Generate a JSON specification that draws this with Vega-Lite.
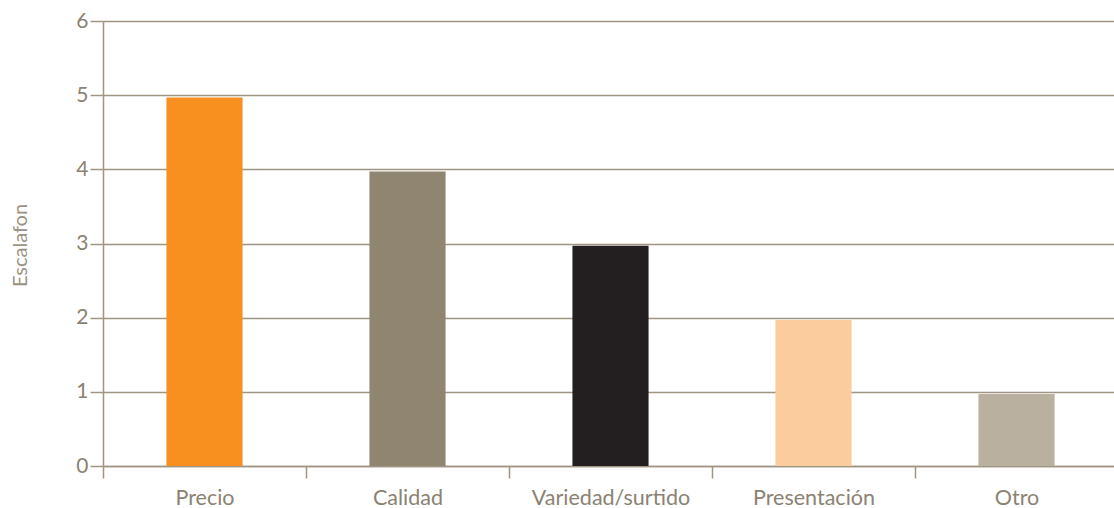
{
  "$schema": "https://vega.github.io/schema/vega-lite/v6.json",
  "width": 1015,
  "height": 445,
  "autosize": "none",
  "padding": {"left": 103, "top": 21, "right": 0, "bottom": 42},
  "background": "#ffffff",
  "config": {"view": {"stroke": null}, "font": "Lato"},
  "data": {"values": [
    {"categoria": "Precio", "escalafon": 4.97, "color": "#f7901e"},
    {"categoria": "Calidad", "escalafon": 3.97, "color": "#8f8570"},
    {"categoria": "Variedad/surtido", "escalafon": 2.97, "color": "#231f20"},
    {"categoria": "Presentación", "escalafon": 1.97, "color": "#fbcc9c"},
    {"categoria": "Otro", "escalafon": 0.97, "color": "#b9b09f"}
  ]},
  "mark": {"type": "bar", "width": {"band": 0.375}},
  "encoding": {
    "x": {
      "field": "categoria", "type": "nominal", "sort": null,
      "scale": {"paddingInner": 0, "paddingOuter": 0},
      "axis": {
        "title": null, "labelAngle": 0, "tickBand": "extent",
        "domainColor": "#a09583", "domainWidth": 1.5,
        "tickColor": "#a09583", "tickWidth": 1.5, "tickSize": 12,
        "labelFont": "Lato", "labelFontSize": 21.5, "labelColor": "#8b8272",
        "labelPadding": 9, "labelOverlap": false, "grid": false
      }
    },
    "y": {
      "field": "escalafon", "type": "quantitative",
      "scale": {"domain": [0, 6]},
      "axis": {
        "title": "Escalafon", "values": [0, 1, 2, 3, 4, 5, 6],
        "labelOverlap": false, "labelFlush": false,
        "domainColor": "#a09583", "domainWidth": 1.5,
        "tickColor": "#a09583", "tickWidth": 1.5, "tickSize": 13,
        "gridColor": "#a09583", "gridWidth": 1.5, "grid": true,
        "labelFont": "Lato", "labelFontSize": 21, "labelColor": "#8b8272", "labelPadding": 2,
        "titleFont": "Lato", "titleFontSize": 20, "titleColor": "#9a9282", "titleFontWeight": "normal",
        "titleX": -83, "titleY": 224, "titleAngle": -90, "titleBaseline": "middle", "titleAlign": "center"
      }
    },
    "color": {"field": "color", "type": "nominal", "scale": null, "legend": null}
  }
}
